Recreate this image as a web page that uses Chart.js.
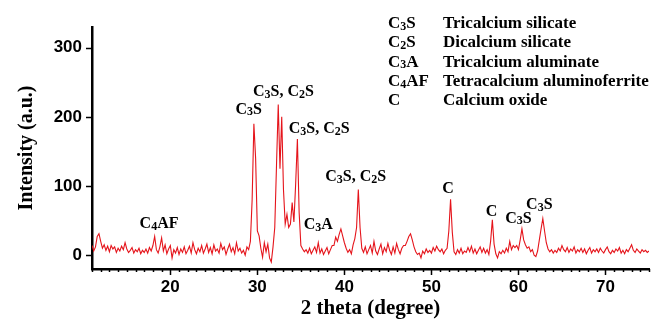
<!DOCTYPE html>
<html>
<head>
<meta charset="utf-8">
<script src="https://cdn.jsdelivr.net/npm/chart.js@4.4.1/dist/chart.umd.min.js"></script>
<style>
  html, body { margin: 0; padding: 0; background: #fff; }
  #wrap { width: 665px; height: 327px; }
</style>
</head>
<body>
<div id="wrap"><canvas id="xrdChart" width="665" height="327"></canvas></div>
<script>
// XRD pattern of the cement sample

// 2 theta (degree), one row per degree
const twoTheta = [
    11.0, 11.2, 11.4, 11.6, 11.8,
    12.0, 12.2, 12.4, 12.6, 12.8,
    13.0, 13.2, 13.4, 13.6, 13.8,
    14.0, 14.2, 14.4, 14.6, 14.8,
    15.0, 15.2, 15.4, 15.6, 15.8,
    16.0, 16.2, 16.4, 16.6, 16.8,
    17.0, 17.2, 17.4, 17.6, 17.8,
    18.0, 18.2, 18.4, 18.6, 18.8,
    19.0, 19.2, 19.4, 19.6, 19.8,
    20.0, 20.2, 20.4, 20.6, 20.8,
    21.0, 21.2, 21.4, 21.6, 21.8,
    22.0, 22.2, 22.4, 22.6, 22.8,
    23.0, 23.2, 23.4, 23.6, 23.8,
    24.0, 24.2, 24.4, 24.6, 24.8,
    25.0, 25.2, 25.4, 25.6, 25.8,
    26.0, 26.2, 26.4, 26.6, 26.8,
    27.0, 27.2, 27.4, 27.6, 27.8,
    28.0, 28.2, 28.4, 28.6, 28.8,
    29.0, 29.2, 29.4, 29.6, 29.8,
    30.0, 30.2, 30.4, 30.6, 30.8,
    31.0, 31.2, 31.4, 31.6, 31.8,
    32.0, 32.2, 32.4, 32.6, 32.8,
    33.0, 33.2, 33.4, 33.6, 33.8,
    34.0, 34.2, 34.4, 34.6, 34.8,
    35.0, 35.2, 35.4, 35.6, 35.8,
    36.0, 36.2, 36.4, 36.6, 36.8,
    37.0, 37.2, 37.4, 37.6, 37.8,
    38.0, 38.2, 38.4, 38.6, 38.8,
    39.0, 39.2, 39.4, 39.6, 39.8,
    40.0, 40.2, 40.4, 40.6, 40.8,
    41.0, 41.2, 41.4, 41.6, 41.8,
    42.0, 42.2, 42.4, 42.6, 42.8,
    43.0, 43.2, 43.4, 43.6, 43.8,
    44.0, 44.2, 44.4, 44.6, 44.8,
    45.0, 45.2, 45.4, 45.6, 45.8,
    46.0, 46.2, 46.4, 46.6, 46.8,
    47.0, 47.2, 47.4, 47.6, 47.8,
    48.0, 48.2, 48.4, 48.6, 48.8,
    49.0, 49.2, 49.4, 49.6, 49.8,
    50.0, 50.2, 50.4, 50.6, 50.8,
    51.0, 51.2, 51.4, 51.6, 51.8,
    52.0, 52.2, 52.4, 52.6, 52.8,
    53.0, 53.2, 53.4, 53.6, 53.8,
    54.0, 54.2, 54.4, 54.6, 54.8,
    55.0, 55.2, 55.4, 55.6, 55.8,
    56.0, 56.2, 56.4, 56.6, 56.8,
    57.0, 57.2, 57.4, 57.6, 57.8,
    58.0, 58.2, 58.4, 58.6, 58.8,
    59.0, 59.2, 59.4, 59.6, 59.8,
    60.0, 60.2, 60.4, 60.6, 60.8,
    61.0, 61.2, 61.4, 61.6, 61.8,
    62.0, 62.2, 62.4, 62.6, 62.8,
    63.0, 63.2, 63.4, 63.6, 63.8,
    64.0, 64.2, 64.4, 64.6, 64.8,
    65.0, 65.2, 65.4, 65.6, 65.8,
    66.0, 66.2, 66.4, 66.6, 66.8,
    67.0, 67.2, 67.4, 67.6, 67.8,
    68.0, 68.2, 68.4, 68.6, 68.8,
    69.0, 69.2, 69.4, 69.6, 69.8,
    70.0, 70.2, 70.4, 70.6, 70.8,
    71.0, 71.2, 71.4, 71.6, 71.8,
    72.0, 72.2, 72.4, 72.6, 72.8,
    73.0, 73.2, 73.4, 73.6, 73.8,
    74.0, 74.2, 74.4, 74.6, 74.8,
    75.0
];

// intensity (a.u.), same rows as twoTheta
const intensity = [
    14, 6, 12, 27, 31,
    20, 10, 15, 7, 13,
    5, 14, 9, 12, 4,
    10, 6, 13, 8, 18,
    9, 4, 7, 11, 3,
    8, 5, 10, 2, 7,
    4, 9, 3, 11, 6,
    14, 27, 8, 3, 12,
    25, 6, 15, 2, 9,
    14, -4, 8, 3, 11,
    1, 9, 4, 12, 2,
    7, 13, 3, 18, 8,
    2, 10, 5, 14, 3,
    9, 16, 4, 11, 2,
    15, 6, 9, 3, 17,
    8, 12, 1, 9, 16,
    5, 11, 2, 18, 6,
    10, 3, 7, 0, 12,
    8, 20, 80, 190, 140,
    35, 28, 10, -3, 18,
    5, 16, -4, -10, 12,
    40, 130, 218, 125, 200,
    95, 45, 59, 40, 45,
    76, 48, 103, 168, 62,
    14, 9, 5, 8, 3,
    10, 2, 7, 12, 4,
    18, 3, 9, 1, 6,
    11, 2, 8, 14, 14,
    26, 20, 30, 38, 28,
    18, 10, 4, 8, 2,
    15, 24, 40, 95, 40,
    10, 4, 12, 2, 8,
    14, 3, 20, 6, 1,
    9, 16, 2, 11, 5,
    17, 7, 1, 12, 3,
    17, 8, 2, 10, 14,
    14, 20, 27, 31, 22,
    12, 5, 1, 3, -4,
    6, 2, 9, 4, 7,
    3, 11, 6, 13, 8,
    5, 9, 2, 7, 10,
    35, 81, 33, 5, 1,
    8, 3, 10, 2, 6,
    4, 11, 5, 13, 3,
    9, 2, 7, 12, 4,
    10, 3, 8, 1, 20,
    51, 16, 2, -4, 5,
    2, 7, 3, 10, 5,
    20, 8, 14, 11, 14,
    8, 22, 38, 22, 15,
    10, 12, 5, 8, 0,
    -2, 6, 22, 38, 53,
    35, 18, 9, 5, 8,
    3, 7, 4, 10, 6,
    14, 8, 5, 11, 4,
    9, 6, 12, 3, 8,
    5, 10, 4, 9, 2,
    7, 11, 3, 8, 5,
    9, 4, 10, 6, 3,
    8, 12, 5, 2, 7,
    4, 9, 6, 11, 3,
    7, 2, 8, 5, 10,
    15, 7, 4, 9, 6,
    3, 8, 5, 7, 4,
    6
];

const xTickLabels = [20, 30, 40, 50, 60, 70];
const yTickLabels = [0, 100, 200, 300];

// phase marks over the peaks (anchored in data units)
const peakLabels = [
    { text: 'C4AF', x: 18.7, y: 46 },
    { text: 'C3S', x: 29.0, y: 212 },
    { text: 'C3S, C2S', x: 33.0, y: 237 },
    { text: 'C3S, C2S', x: 37.1, y: 184 },
    { text: 'C3A', x: 37.0, y: 45 },
    { text: 'C3S, C2S', x: 41.3, y: 114 },
    { text: 'C', x: 51.9, y: 97 },
    { text: 'C', x: 56.9, y: 64 },
    { text: 'C3S', x: 60.0, y: 54 },
    { text: 'C3S', x: 62.4, y: 74 }
];

const legendCodes = ['C3S', 'C2S', 'C3A', 'C4AF', 'C'];
const legendNames = ['Tricalcium silicate', 'Dicalcium silicate', 'Tricalcium aluminate',
    'Tetracalcium aluminoferrite', 'Calcium oxide'];

const SERIF = '"Liberation Serif", "Times New Roman", serif';
const SANS = '"Liberation Sans", Arial, sans-serif';

// draw a cement formula, digits set small and slightly lowered
function drawFormula(ctx, text, x, y, size, align) {
    const parts = text.match(/\d+|\D+/g);
    const big = 'bold ' + size + 'px ' + SERIF;
    const small = 'bold ' + Math.round(size * 0.72) + 'px ' + SERIF;
    let w = 0;
    parts.forEach(p => {
        ctx.font = /\d/.test(p) ? small : big;
        w += ctx.measureText(p).width;
    });
    let cx = align === 'center' ? x - w / 2 : x;
    parts.forEach(p => {
        const sub = /\d/.test(p);
        ctx.font = sub ? small : big;
        ctx.fillText(p, cx, y + (sub ? size * 0.1 : 0));
        cx += ctx.measureText(p).width;
    });
}

const annotations = {
    id: 'annotations',
    afterDraw(chart) {
        const { ctx, scales: { x, y }, chartArea } = chart;
        ctx.save();
        ctx.fillStyle = '#000';
        ctx.strokeStyle = '#000';
        ctx.textBaseline = 'alphabetic';

        // tick marks: long at labelled values, short in between
        ctx.lineWidth = 1.5;
        x.ticks.forEach(t => {
            const px = Math.round(x.getPixelForValue(t.value)) + 0.5;
            const len = xTickLabels.includes(t.value) ? 6 : 3;
            ctx.beginPath();
            ctx.moveTo(px, chartArea.bottom);
            ctx.lineTo(px, chartArea.bottom + len);
            ctx.stroke();
        });
        y.ticks.forEach(t => {
            const py = Math.round(y.getPixelForValue(t.value)) + 0.5;
            ctx.beginPath();
            ctx.moveTo(chartArea.left, py);
            ctx.lineTo(chartArea.left - 6, py);
            ctx.stroke();
        });

        // peak labels
        peakLabels.forEach(l => {
            drawFormula(ctx, l.text, x.getPixelForValue(l.x), y.getPixelForValue(l.y) + 5, 16, 'center');
        });

        // phase key, top right
        legendCodes.forEach((code, i) => {
            const by = 28 + i * 19.3;
            drawFormula(ctx, code, 388, by, 17, 'left');
            ctx.font = 'bold 17px ' + SERIF;
            ctx.fillText(legendNames[i], 443, by);
        });
        ctx.restore();
    }
};

const ctx = document.getElementById('xrdChart').getContext('2d');

new Chart(ctx, {
    type: 'line',
    data: {
        datasets: [{
            data: twoTheta.map((t, i) => ({ x: t, y: intensity[i] })),
            borderColor: '#e5141b',
            borderWidth: 1.1,
            pointRadius: 0,
            tension: 0,
            fill: false
        }]
    },
    options: {
        responsive: false,
        animation: false,
        devicePixelRatio: 1,
        layout: { padding: { top: 27, right: 16, left: 0, bottom: 0 } },
        plugins: {
            legend: { display: false },
            tooltip: { enabled: false }
        },
        scales: {
            x: {
                type: 'linear',
                min: 11,
                max: 75,
                grid: { display: false, drawTicks: true, tickLength: 6 },
                border: { display: true, color: '#000', width: 2.5 },
                ticks: {
                    stepSize: 1,
                    autoSkip: false,
                    maxRotation: 0,
                    padding: 2,
                    color: '#000',
                    font: { family: SANS, size: 17, weight: 'bold' },
                    callback: v => xTickLabels.includes(v) ? String(v) : ''
                },
                title: {
                    display: true,
                    text: '2 theta (degree)',
                    color: '#000',
                    font: { family: SERIF, size: 21, weight: 'bold' },
                    padding: { top: 0, bottom: 6 }
                },
                afterFit(scale) { scale.height = 58; }
            },
            y: {
                min: -20,
                max: 330,
                grid: { display: false, drawTicks: true, tickLength: 6 },
                border: { display: true, color: '#000', width: 2.5 },
                ticks: {
                    padding: 4,
                    color: '#000',
                    font: { family: SANS, size: 17, weight: 'bold' }
                },
                afterBuildTicks(scale) {
                    scale.ticks = yTickLabels.map(v => ({ value: v }));
                },
                title: {
                    display: true,
                    text: 'Intensity (a.u.)',
                    color: '#000',
                    font: { family: SERIF, size: 20, weight: 'bold' },
                    padding: { top: 15, bottom: 0 }
                },
                afterFit(scale) { scale.width = 92; }
            }
        }
    },
    plugins: [annotations]
});
</script>
</body>
</html>
